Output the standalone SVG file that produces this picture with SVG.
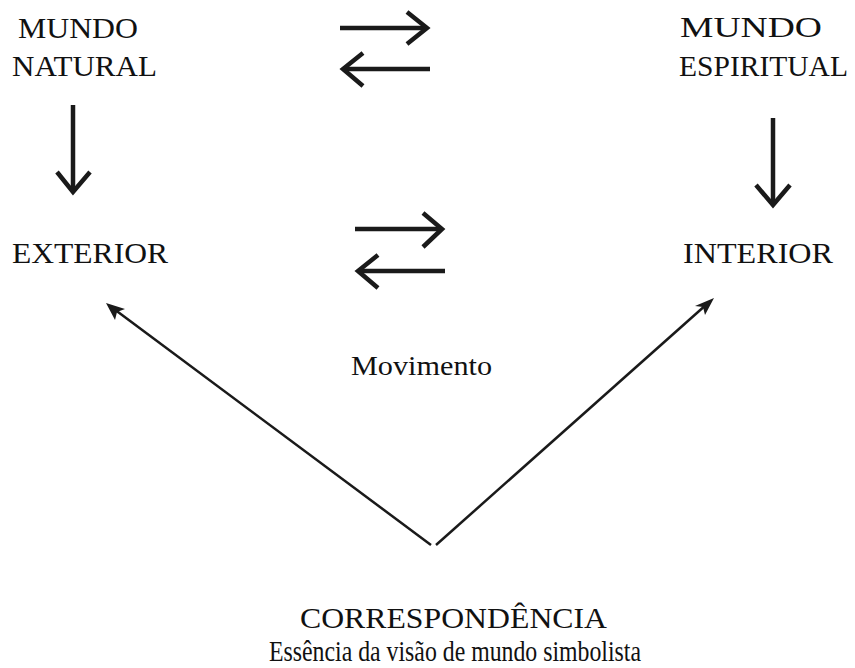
<svg xmlns="http://www.w3.org/2000/svg" width="855" height="668" viewBox="0 0 855 668">
<defs>
<style>
text{font-family:"Liberation Serif","Times New Roman",serif;fill:#111;}
.t{font-size:29px;}
.m{font-size:27px;}
.shaft{stroke:#1a1a1a;stroke-width:4.5;fill:none;}
.head{stroke:#1a1a1a;stroke-width:4.5;fill:none;stroke-linejoin:miter;stroke-linecap:butt;}
.diag{stroke:#1a1a1a;stroke-width:2.5;fill:none;}
</style>
<marker id="tri" viewBox="0 0 10 10" refX="9" refY="5" markerWidth="7" markerHeight="7" markerUnits="userSpaceOnUse" orient="auto">
<path d="M0,0 L10,5 L0,10 L2.5,5 Z" fill="#1a1a1a"/>
</marker>
<marker id="tri2" viewBox="0 0 10 10" refX="9" refY="5" markerWidth="8" markerHeight="8" orient="auto">
<path d="M0,1 L10,5 L0,9 L2.5,5 Z" fill="#1a1a1a"/>
</marker>
</defs>
<rect width="855" height="668" fill="#fff"/>

<g id="mundo-natural">
<text class="t" x="18" y="38" textLength="120" lengthAdjust="spacingAndGlyphs">MUNDO</text>
<text class="t" x="12" y="76" textLength="145" lengthAdjust="spacingAndGlyphs">NATURAL</text>
</g>
<g id="mundo-espiritual">
<text class="t" x="680" y="37" textLength="142" lengthAdjust="spacingAndGlyphs">MUNDO</text>
<text class="t" x="679" y="76" textLength="169" lengthAdjust="spacingAndGlyphs">ESPIRITUAL</text>
</g>
<g id="exterior">
<text class="t" x="12" y="263" textLength="156" lengthAdjust="spacingAndGlyphs">EXTERIOR</text>
</g>
<g id="interior">
<text class="t" x="683" y="263" textLength="150" lengthAdjust="spacingAndGlyphs">INTERIOR</text>
</g>
<g id="movimento">
<text class="m" x="351" y="375" textLength="141" lengthAdjust="spacingAndGlyphs">Movimento</text>
</g>
<g id="correspondencia">
<text class="t" x="300" y="628" textLength="307" lengthAdjust="spacingAndGlyphs">CORRESPONDÊNCIA</text>
<text class="t" x="269" y="661" textLength="372" lengthAdjust="spacingAndGlyphs">Essência da visão de mundo simbolista</text>
</g>

<g id="connectors">
<!-- top pair -->
<line class="shaft" x1="340" y1="28" x2="426" y2="28"/>
<polyline class="head" points="407,12 427,28 407,44"/>
<line class="shaft" x1="430" y1="69" x2="344" y2="69"/>
<polyline class="head" points="363,53 343,69 363,86"/>
<!-- middle pair -->
<line class="shaft" x1="355" y1="229" x2="441" y2="229"/>
<polyline class="head" points="423,213 442,229 423,247"/>
<line class="shaft" x1="445" y1="271" x2="359" y2="271"/>
<polyline class="head" points="378,255 358,271 378,288"/>
<!-- down arrows -->
<line class="shaft" x1="73" y1="105" x2="73" y2="191"/>
<polyline class="head" points="57,172 73,192 90,172"/>
<line class="shaft" x1="773" y1="118" x2="773" y2="204"/>
<polyline class="head" points="756,185 773,205 790,185"/>
<!-- diagonals -->
<line class="diag" x1="431" y1="545" x2="114" y2="309"/>
<path d="M106,303 L125,309 L117,312 L115,320 Z" fill="#1a1a1a"/>
<line class="diag" x1="436" y1="545" x2="707" y2="304"/>
<path d="M714,298 L705,315 L703,307 L695,306 Z" fill="#1a1a1a"/>
</g>
</svg>
